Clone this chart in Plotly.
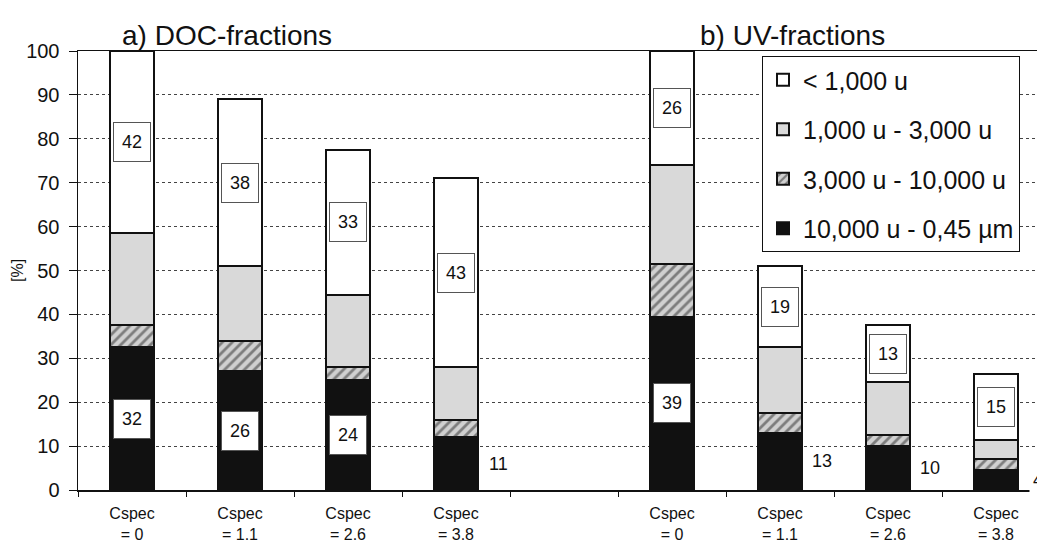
import plotly.graph_objects as go

# ---- data -------------------------------------------------------------
categories = ["DOC Cspec = 0", "DOC Cspec = 1.1", "DOC Cspec = 2.6", "DOC Cspec = 3.8", "gap",
              "UV Cspec = 0", "UV Cspec = 1.1", "UV Cspec = 2.6", "UV Cspec = 3.8"]
tick_labels = ["Cspec<br>= 0", "Cspec<br>= 1.1", "Cspec<br>= 2.6", "Cspec<br>= 3.8", "",
               "Cspec<br>= 0", "Cspec<br>= 1.1", "Cspec<br>= 2.6", "Cspec<br>= 3.8"]

series_names = ["10,000 u - 0,45 µm", "3,000 u - 10,000 u", "1,000 u - 3,000 u", "< 1,000 u"]

frac_10000_045 = [32.5, 27, 25, 12, None, 39.5, 13, 10, 4.5]
frac_3000_10000 = [5, 7, 3, 4, None, 12, 4.5, 2.5, 2.5]
frac_1000_3000 = [21, 17, 16.5, 12, None, 22.5, 15, 12, 4.5]
frac_lt_1000 = [41.5, 38, 33, 43, None, 26, 18.5, 13, 15]

label_lt_1000 = [42, 38, 33, 43, None, 26, 19, 13, 15]
label_10000_045 = [32, 26, 24, 11, None, 39, 13, 10, 4]

panel_titles = ["a) DOC-fractions", "b) UV-fractions"]
y_title = "[%]"

# ---- styling ----------------------------------------------------------
FONT = "Liberation Sans, Arial, sans-serif"
INK = "#111111"

series_values = [frac_10000_045, frac_3000_10000, frac_1000_3000, frac_lt_1000]
series_fill = ["#111111", "#d4d4d4", "#d9d9d9", "#ffffff"]
series_pattern = [dict(shape=""),
                  dict(shape="/", fgcolor="#2a2a2a", bgcolor="#d0d0d0", size=7, solidity=0.4),
                  dict(shape=""),
                  dict(shape="")]
legend_rank = [4, 3, 2, 1]

fig = go.Figure()
for i, (name, vals) in enumerate(zip(series_names, series_values)):
    fig.add_trace(go.Bar(
        x=categories, y=vals, name=name,
        legendgroup=f"g{i}", legendrank=legend_rank[i],
        marker=dict(color=series_fill[i], line=dict(color=INK, width=2),
                    pattern=series_pattern[i]),
        hoverinfo="skip",
    ))

W, H = 1037, 546
L, T, B = 78, 51, 56
plot_w = W - L
plot_h = H - T - B


def px_x(px):
    return (px - L) / plot_w


def px_y(py):
    return (H - B - py) / plot_h


annotations = []
box_style = dict(bgcolor="white", bordercolor="#555555", borderwidth=1,
                 width=32, height=34, borderpad=2)
for i, cat in enumerate(categories):
    if label_lt_1000[i] is None:
        continue
    base = frac_10000_045[i] + frac_3000_10000[i] + frac_1000_3000[i]
    annotations.append(dict(
        x=cat, y=base + frac_lt_1000[i] / 2, xref="x", yref="y",
        text=str(label_lt_1000[i]), showarrow=False,
        font=dict(family=FONT, size=18, color=INK), **box_style,
    ))
    black = frac_10000_045[i]
    if black >= 15:
        annotations.append(dict(
            x=cat, y=black / 2, xref="x", yref="y",
            text=str(label_10000_045[i]), showarrow=False,
            font=dict(family=FONT, size=18, color=INK), **box_style,
        ))
    else:
        annotations.append(dict(
            x=cat, y=black / 2, xref="x", yref="y", xshift=42,
            text=str(label_10000_045[i]), showarrow=False,
            font=dict(family=FONT, size=18, color=INK),
            bgcolor="white", borderpad=3,
        ))

annotations.append(dict(x=px_x(120), y=px_y(36), xref="paper", yref="paper",
                        text=panel_titles[0], showarrow=False,
                        xanchor="left", yanchor="middle",
                        font=dict(family=FONT, size=28, color=INK)))
annotations.append(dict(x=px_x(698), y=px_y(36), xref="paper", yref="paper",
                        text=panel_titles[1], showarrow=False,
                        xanchor="left", yanchor="middle",
                        font=dict(family=FONT, size=28, color=INK)))
annotations.append(dict(x=px_x(17), y=px_y(270), xref="paper", yref="paper",
                        text=y_title, showarrow=False, textangle=-90,
                        xanchor="center", yanchor="middle",
                        font=dict(family=FONT, size=16, color=INK)))

slot_px = 108.0
fig.update_layout(
    width=W, height=H,
    margin=dict(l=L, r=0, t=T, b=B, pad=0, autoexpand=False),
    paper_bgcolor="white", plot_bgcolor="white",
    barmode="stack", bargap=0.59,
    font=dict(family=FONT, color=INK),
    showlegend=True,
    legend=dict(
        x=px_x(762), y=px_y(56), xanchor="left", yanchor="top",
        bgcolor="white", bordercolor=INK, borderwidth=1,
        font=dict(family=FONT, size=25, color=INK),
        traceorder="grouped", tracegroupgap=14,
        itemwidth=30,
    ),
    annotations=annotations,
    xaxis=dict(
        type="category", categoryorder="array", categoryarray=categories,
        tickmode="array", tickvals=categories, ticktext=tick_labels,
        tickson="boundaries", ticks="outside", ticklen=5, tickcolor=INK, tickwidth=1,
        ticklabelstandoff=8, automargin=False,
        range=[-0.5, -0.5 + plot_w / slot_px],
        showline=True, linecolor=INK, linewidth=1.5, mirror=True,
        showgrid=False, zeroline=False,
        tickfont=dict(family=FONT, size=16, color=INK),
        fixedrange=True,
    ),
    yaxis=dict(
        range=[0, 100], tickmode="array", tickvals=list(range(0, 101, 10)),
        ticks="outside", ticklen=8, tickcolor=INK, tickwidth=1,
        ticklabelstandoff=5, automargin=False,
        showline=True, linecolor=INK, linewidth=1.5, mirror=False,
        showgrid=True, gridcolor="#444444", gridwidth=1, griddash="dot",
        zeroline=False,
        tickfont=dict(family=FONT, size=20, color=INK),
        fixedrange=True,
    ),
)

fig.write_html("out.html",
               config={"displayModeBar": False, "staticPlot": True},
               post_script="document.body.style.margin='0';document.body.style.overflow='hidden';")
